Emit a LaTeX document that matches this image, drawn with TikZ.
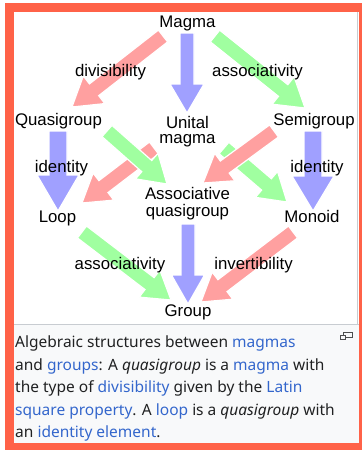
\documentclass[tikz,border=0pt]{standalone}
\usepackage{fontspec}
\setmainfont{Liberation Sans}
\newfontfamily\capfont{Noto Sans}
\usetikzlibrary{calc}
\definecolor{bordercol}{RGB}{255,98,72}
\definecolor{capbg}{RGB}{248,249,250}
\definecolor{sepcol}{RGB}{200,204,209}
\definecolor{captext}{RGB}{32,33,34}
\definecolor{linkcol}{RGB}{51,102,204}
\definecolor{redA}{RGB}{255,160,160}
\definecolor{greenA}{RGB}{160,255,160}
\definecolor{blueA}{RGB}{160,160,255}
\newcommand\lnk[1]{\textcolor{linkcol}{#1}}
% block arrow: #1 colour, #2 start, #3 tip, #4 half shaft width, #5 half head width, #6 head length
\newcommand\barrow[6]{%
  \path #2 coordinate (bs) #3 coordinate (be);
  \path ($(be)!#6!(bs)$) coordinate (bb);
  \filldraw[fill=#1, draw=white, line width=1.2pt, line join=miter]
    ($(bs)!#4!90:(be)$) -- ($(bb)!#4!-90:(bs)$) -- ($(bb)!#5!-90:(bs)$) -- (be)
    -- ($(bb)!#5!90:(bs)$) -- ($(bb)!#4!90:(bs)$) -- ($(bs)!#4!-90:(be)$) -- cycle;
}
\begin{document}
\begin{tikzpicture}[x=1pt,y=-1pt,
  lbl/.style={font=\fontsize{16.8}{15.5}\selectfont, inner sep=0pt, anchor=base, text=black},
  capline/.style={font=\capfont\fontsize{15.5}{18}\selectfont, text=captext, inner sep=0pt, anchor=base west}]
\useasboundingbox (0,0) rectangle (362,450);
% frame
\fill[bordercol] (5,3) rectangle (362,450);
\fill[white] (14,12) rectangle (358.5,324);
\fill[capbg] (14,324) rectangle (358.5,443);
\draw[sepcol, line width=1.3pt] (357.8,12) -- (357.8,324);
\draw[sepcol, line width=1pt] (14,324) -- (358.5,324);
% nodes
\node[lbl] (magma) at (187.5,27) {Magma};
\node[lbl] (quasi) at (58.5,125.5) {Quasigroup};
\node[lbl] (unital) at (187.5,128) {\begin{tabular}[t]{@{}c@{}}Unital\\magma\end{tabular}};
\node[lbl] (semi) at (314,125.5) {Semigroup};
\node[lbl] (loop) at (57.5,222) {Loop};
\node[lbl] (assoc) at (187.5,199.5) {\begin{tabular}[t]{@{}c@{}}Associative\\quasigroup\end{tabular}};
\node[lbl] (monoid) at (312,222) {Monoid};
\node[lbl] (group) at (188,316) {Group};
% arrows
\barrow{redA}{([shift={(-24.5,9)}]magma.base)}{([shift={(13.5,-18.5)}]quasi.base)}{7.5pt}{17.5pt}{28pt}
\barrow{blueA}{([shift={(-0.5,6)}]magma.base)}{([shift={(-0.5,-15)}]unital.base)}{7pt}{17pt}{29pt}
\barrow{greenA}{([shift={(27.5,9)}]magma.base)}{([shift={(-9,-17.5)}]semi.base)}{7.5pt}{17.5pt}{28pt}
\barrow{blueA}{([shift={(-0.5,5.5)}]quasi.base)}{([shift={(0.5,-11)}]loop.base)}{9pt}{21pt}{36pt}
\barrow{redA}{([shift={(-33.5,20)}]unital.base)}{([shift={(24.5,-19)}]loop.base)}{7.5pt}{17pt}{27pt}
\barrow{greenA}{([shift={(48.5,5.5)}]quasi.base)}{([shift={(-20.5,-15.5)}]assoc.base)}{7.5pt}{17pt}{27pt}
\barrow{greenA}{([shift={(36.5,20)}]unital.base)}{([shift={(-25,-20)}]monoid.base)}{7.5pt}{17pt}{27pt}
\barrow{redA}{([shift={(-40,5.5)}]semi.base)}{([shift={(15.5,-16.5)}]assoc.base)}{7.5pt}{17pt}{27pt}
\barrow{blueA}{([shift={(-1,5.5)}]semi.base)}{([shift={(1,-11)}]monoid.base)}{9pt}{21pt}{35pt}
\barrow{greenA}{([shift={(24.5,10)}]loop.base)}{([shift={(-17,-16)}]group.base)}{7.5pt}{17pt}{27pt}
\barrow{blueA}{([shift={(0.5,24.5)}]assoc.base)}{([shift={(0,-12)}]group.base)}{7pt}{16.5pt}{29pt}
\barrow{redA}{([shift={(-19,10)}]monoid.base)}{([shift={(13,-14)}]group.base)}{7.5pt}{17pt}{27pt}
% arrow labels
\node[lbl] (l1) at (110.5,76) {divisibility};
\node[lbl] (l2) at (257.5,76) {associativity};
\node[lbl] (l3) at (61.5,172) {identity};
\node[lbl] (l4) at (317,172) {identity};
\node[lbl] (l5) at (120,269) {associativity};
\node[lbl] (l6) at (253.5,269) {invertibility};
% enlarge icon
\draw[captext!80, line width=0.9pt] (343.5,332.5) rectangle (352.5,337.5);
\filldraw[fill=capbg, draw=captext!80, line width=0.9pt] (340.5,335.5) rectangle (345.5,339.5);
% caption
\node[capline] (c1) at (15,347.3) {Algebraic structures between \lnk{magmas}};
\node[capline] (c2) at (15,370) {and \lnk{groups}: A \textit{quasigroup} is a \lnk{magma} with};
\node[capline] (c3) at (15,392.3) {the type of \lnk{divisibility} given by the \lnk{Latin}};
\node[capline] (c4) at (15,415) {\lnk{square property}. A \lnk{loop} is a \textit{quasigroup} with};
\node[capline] (c5) at (15,437.3) {an \lnk{identity element}.};
\end{tikzpicture}
\end{document}
